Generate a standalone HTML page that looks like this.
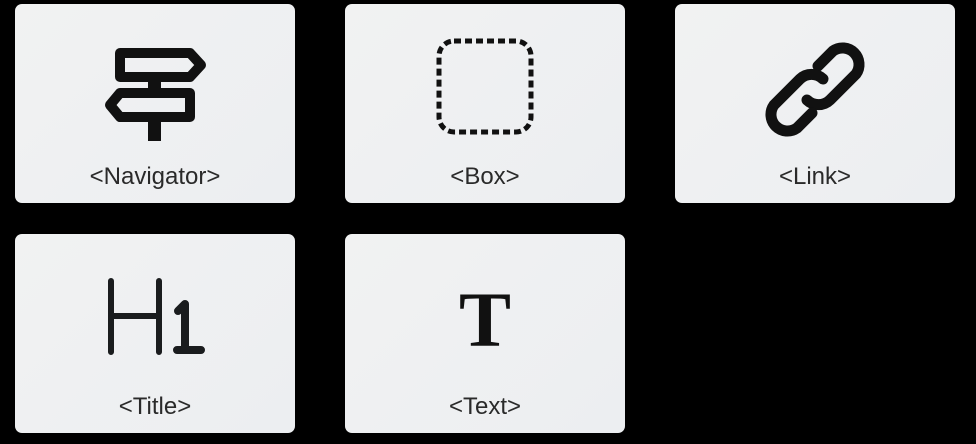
<!DOCTYPE html>
<html><head><meta charset="utf-8"><style>
html,body{margin:0;padding:0;background:#000;width:976px;height:444px;overflow:hidden}
.card{position:absolute;width:280px;height:199px;border-radius:7px;background:linear-gradient(135deg,#f1f2f2,#eceef1)}
.lbl{position:absolute;left:0;right:0;top:159px;text-align:center;font-family:"Liberation Sans",sans-serif;font-size:24px;color:#2a2a2a}
svg{position:absolute;left:0;top:0}
</style></head><body>
<div class="card" style="left:15px;top:4px">
<svg width="280" height="199">
<g fill="none" stroke="#111" stroke-width="10" stroke-linejoin="round">
<path d="M105 49 H175 L186 61 L175 73 H105 Z"/>
<path d="M175 89 H105 L95 101 L105 113 H175 Z"/>
</g>
<rect x="133" y="76" width="13" height="10" fill="#111"/>
<rect x="133" y="116" width="13" height="21" fill="#111"/>
</svg>
<div class="lbl">&lt;Navigator&gt;</div>
</div>
<div class="card" style="left:345px;top:4px">
<svg width="280" height="199">
<rect x="94" y="37" width="92" height="91" rx="15" fill="none" stroke="#111" stroke-width="5" stroke-dasharray="7 4"/>
</svg>
<div class="lbl">&lt;Box&gt;</div>
</div>
<div class="card" style="left:675px;top:4px">
<svg width="280" height="199">
<g fill="none" stroke="#111" stroke-width="11" stroke-linecap="round">
<path d="M143 62 L158 47 A16.5 16.5 0 0 1 181 70 L155 96 A16.5 16.5 0 0 1 132 96"/>
<path d="M137 109 L122 124 A16.5 16.5 0 0 1 99 101 L125 75 A16.5 16.5 0 0 1 148 75"/>
</g>
</svg>
<div class="lbl">&lt;Link&gt;</div>
</div>
<div class="card" style="left:15px;top:234px">
<svg width="280" height="199">
<g fill="none" stroke="#1a1c1e" stroke-linecap="round" stroke-linejoin="round">
<path d="M96 47 V118 M144 47 V118 M96 82 H144" stroke-width="6"/>
<path d="M163 77 L170 70 V116 M162 116 H186" stroke-width="8"/>
</g>
</svg>
<div class="lbl">&lt;Title&gt;</div>
</div>
<div class="card" style="left:345px;top:234px">
<svg width="280" height="199">
<text x="140" y="112" text-anchor="middle" font-family="Liberation Serif,serif" font-weight="bold" font-size="78" fill="#111">T</text>
</svg>
<div class="lbl">&lt;Text&gt;</div>
</div>
</body></html>
